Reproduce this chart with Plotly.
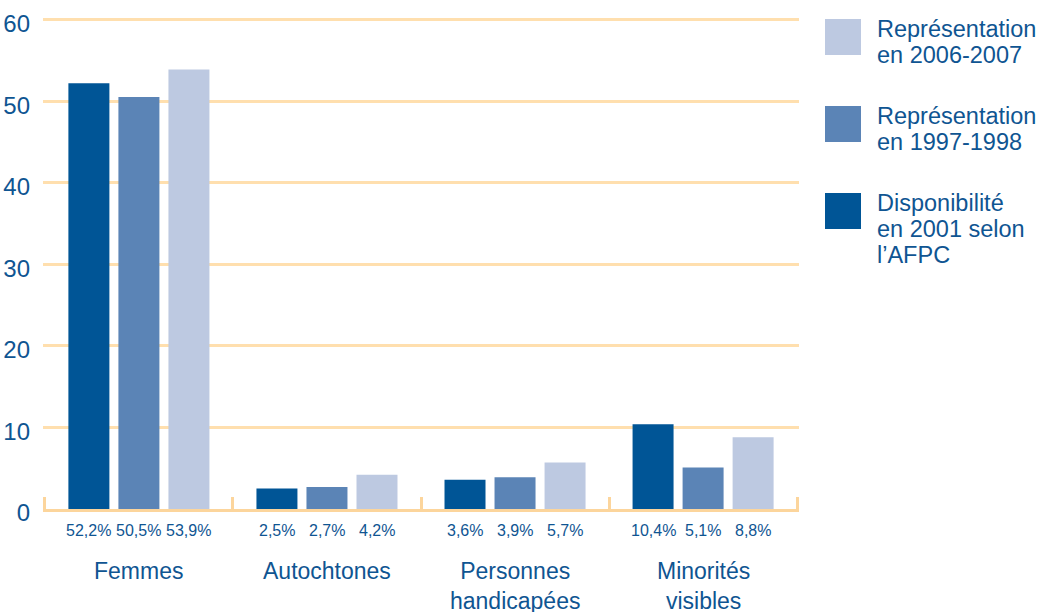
import plotly.graph_objects as go

# Data -------------------------------------------------------------------
categories = ["Femmes", "Autochtones", "Personnes<br>handicapées", "Minorités<br>visibles"]
series_names = [
    "Disponibilité<br>en 2001 selon<br>l’AFPC",
    "Représentation<br>en 1997-1998",
    "Représentation<br>en 2006-2007",
]
dispo_2001 = [52.2, 2.5, 3.6, 10.4]
repr_1997_1998 = [50.5, 2.7, 3.9, 5.1]
repr_2006_2007 = [53.9, 4.2, 5.7, 8.8]
y_ticks = [0, 10, 20, 30, 40, 50, 60]

# Styling ----------------------------------------------------------------
colors = ["#005596", "#5b84b6", "#bdc9e1"]
text_color = "#0f5592"
grid_color = "#ffdfae"
axis_color = "#fcd59c"
font_family = "Liberation Sans, Arial, sans-serif"

W, H = 1040, 612
# axis ranges are padded a touch so edge gridlines / ticks are still drawn
X_PAD = 0.01
Y_TOP = 60.2
M_L, M_R, M_T, M_B = 43, 241, 18, 103
PW, PH = W - M_L - M_R, H - M_T - M_B


def px_x(px):
    return (px - M_L) / PW


def px_y(py):
    return (H - M_B - py) / PH


series = [dispo_2001, repr_1997_1998, repr_2006_2007]
offsets = [-0.266, 0.0, 0.266]
bar_w = 0.218

fig = go.Figure()
annotations = []
for vals, name, color, off in zip(series, series_names, colors, offsets):
    xs = [i + off for i in range(len(categories))]
    fig.add_trace(go.Bar(
        x=xs, y=vals, width=bar_w, name=name.replace("<br>", " "),
        marker=dict(color=color, line=dict(width=0)),
        showlegend=False, hoverinfo="skip",
    ))
    for x, v in zip(xs, vals):
        annotations.append(dict(
            x=x, y=0, xref="x", yref="y",
            text=f"{v:.1f}".replace(".", ",") + "%",
            showarrow=False, yanchor="middle", yshift=-21,
            font=dict(family=font_family, size=16, color=text_color),
        ))

# Category names under each group
for i, cat in enumerate(categories):
    annotations.append(dict(
        x=i, y=0, xref="x", yref="y", text=cat, showarrow=False,
        yanchor="top", yshift=-47,
        font=dict(family=font_family, size=23, color=text_color),
    ))

# Legend: coloured squares with text, listed from light to dark
shapes = []
leg_tops = [19, 106, 193]
line_step = 26
for top, name, color in zip(leg_tops, series_names[::-1], colors[::-1]):
    shapes.append(dict(
        type="rect", xref="paper", yref="paper",
        x0=px_x(825), x1=px_x(861), y0=px_y(top + 36), y1=px_y(top),
        fillcolor=color, line=dict(width=0), layer="above",
    ))
    for k, line in enumerate(name.split("<br>")):
        annotations.append(dict(
            x=px_x(875), y=px_y(top + 10 + k * line_step), xref="paper", yref="paper",
            text=line, showarrow=False, xanchor="left", yanchor="middle", align="left",
            font=dict(family=font_family, size=23.5, color=text_color),
        ))

fig.update_layout(
    width=W, height=H,
    margin=dict(l=M_L, r=M_R, t=M_T, b=M_B, pad=0),
    paper_bgcolor="white", plot_bgcolor="white",
    barmode="overlay",
    annotations=annotations, shapes=shapes,
    xaxis=dict(
        range=[-0.5 - X_PAD, len(categories) - 0.5 + X_PAD],
        tickvals=[i - 0.5 for i in range(len(categories) + 1)],
        showticklabels=False, showgrid=False, zeroline=False,
        ticks="inside", ticklen=12, tickwidth=3, tickcolor=axis_color,
        showline=True, linecolor=axis_color, linewidth=3,
        fixedrange=True, automargin=False,
    ),
    yaxis=dict(
        range=[0, Y_TOP], tickvals=y_ticks,
        showgrid=True, gridcolor=grid_color, gridwidth=3,
        zeroline=False, showline=False, ticks="", ticklabelstandoff=12,
        ticklabelshift=4,
        tickfont=dict(family=font_family, size=24, color=text_color),
        fixedrange=True, automargin=False,
    ),
)

fig.write_html("out.html", config={"displayModeBar": False})
